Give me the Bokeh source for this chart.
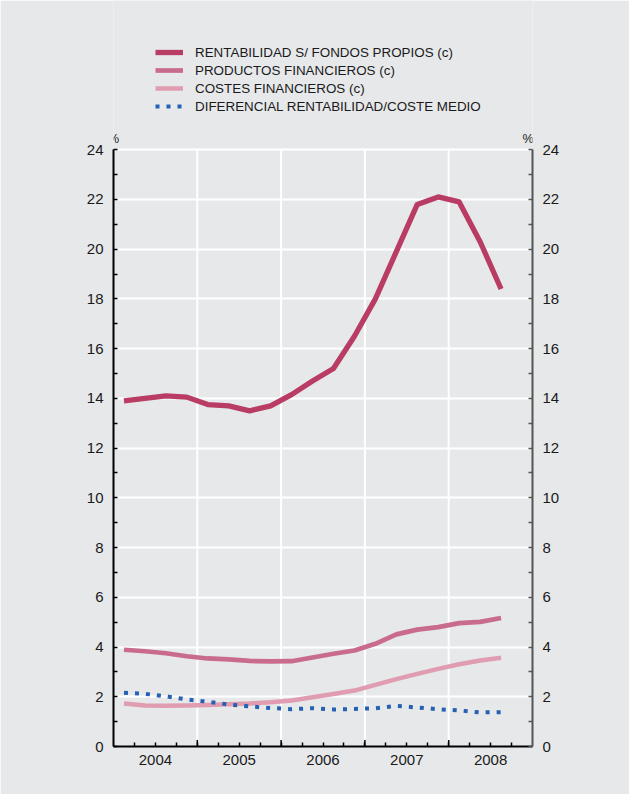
from bokeh.plotting import figure
from bokeh.models import (FixedTicker, LinearAxis, Legend, LegendItem, Label,
                          Range1d, CustomJSTickFormatter, ColumnDataSource)
from bokeh.embed import file_html
from bokeh.resources import INLINE

# ---- data ----
years = [2004, 2005, 2006, 2007, 2008]
period_year = [2004] * 4 + [2005] * 4 + [2006] * 4 + [2007] * 4 + [2008] * 3
period_q = [1, 2, 3, 4] * 4 + [1, 2, 3]

rentabilidad = [13.9, 14.0, 14.1, 14.05, 13.75, 13.7, 13.5, 13.7, 14.15, 14.7,
                15.2, 16.5, 18.0, 19.9, 21.8, 22.1, 21.9, 20.3, 18.4]
productos = [3.89, 3.83, 3.75, 3.63, 3.54, 3.50, 3.44, 3.42, 3.43, 3.58,
             3.73, 3.86, 4.13, 4.51, 4.70, 4.80, 4.96, 5.01, 5.17]
costes = [1.73, 1.65, 1.64, 1.65, 1.67, 1.70, 1.73, 1.78, 1.85, 1.98,
          2.11, 2.25, 2.48, 2.71, 2.92, 3.12, 3.31, 3.46, 3.57]
diferencial = [2.16, 2.12, 2.02, 1.89, 1.80, 1.69, 1.61, 1.55, 1.50, 1.54,
               1.49, 1.51, 1.54, 1.63, 1.57, 1.50, 1.45, 1.37, 1.38]

labels = ["RENTABILIDAD S/ FONDOS PROPIOS (c)",
          "PRODUCTOS FINANCIEROS (c)",
          "COSTES FINANCIEROS (c)",
          "DIFERENCIAL RENTABILIDAD/COSTE MEDIO"]
y_ticks = list(range(0, 25, 2))
y_minor = list(range(1, 24, 2))

# ---- derived ----
x = [y + (q - 0.5) / 4 for y, q in zip(period_year, period_q)]
src = ColumnDataSource(dict(x=x, r=rentabilidad, p=productos, c=costes, d=diferencial))
ymax = y_ticks[-1]

BG = "#e7e8ea"
FONT = "Liberation Sans"
TXT = "#1a1a1a"

# frame reaches the top of the page so that legend and "%" marks are not clipped;
# axes are bounded to 0..24
p = figure(width=629, height=794, output_backend="svg", toolbar_location=None,
           x_range=Range1d(years[0], years[-1] + 1), y_range=Range1d(0, ymax * 1.25),
           min_border_left=113, min_border_right=97, min_border_top=0,
           min_border_bottom=48)
p.background_fill_color = BG
p.border_fill_color = BG
p.outline_line_color = None

# grids
p.xgrid.visible = False
p.ygrid.ticker = FixedTicker(ticks=y_ticks[1:])
p.ygrid.bounds = (0, ymax)
p.ygrid.grid_line_color = "white"
p.ygrid.grid_line_width = 2
p.segment(x0=years[1:], y0=[0] * 4, x1=years[1:], y1=[ymax] * 4,
          line_color="white", line_width=2)

# x axis
xa = p.xaxis[0]
xa.ticker = FixedTicker(ticks=[y + 0.5 for y in years],
                        minor_ticks=[y + k / 4 for y in years for k in (1, 3)] + years[1:])
xa.formatter = CustomJSTickFormatter(code="return Math.floor(tick).toString()")
xa.axis_line_color = "black"
xa.axis_line_width = 2
xa.major_tick_in = 4
xa.major_tick_out = 0
xa.minor_tick_in = 4
xa.minor_tick_out = 0
xa.major_tick_line_width = 1.5
xa.minor_tick_line_width = 1.5
xa.major_label_standoff = 8
xa.major_label_text_font = FONT
xa.major_label_text_font_size = "15px"
xa.major_label_text_color = TXT

# y axes
ya = p.yaxis[0]
yr = LinearAxis()
p.add_layout(yr, "right")
for ax, col in ((ya, "black"), (yr, "#555555")):
    ax.bounds = (0, ymax)
    ax.ticker = FixedTicker(ticks=y_ticks, minor_ticks=y_minor)
    ax.axis_line_color = col
    ax.axis_line_width = 2
    ax.major_tick_line_color = col
    ax.minor_tick_line_color = col
    ax.major_tick_line_width = 1.5
    ax.minor_tick_line_width = 1.5
    ax.major_tick_in = 4
    ax.major_tick_out = 0
    ax.minor_tick_in = 4
    ax.minor_tick_out = 0
    ax.major_label_standoff = 10
    ax.major_label_text_font = FONT
    ax.major_label_text_font_size = "15px"
    ax.major_label_text_color = TXT

# longer ticks at year boundaries
p.segment(x0=years[1:], y0=[0] * 4, x1=years[1:], y1=[0.26] * 4,
          line_color="black", line_width=1.5)

# series
rc = p.line("x", "c", source=src, line_color="#e09cb1", line_width=4.5, line_join="round")
rp = p.line("x", "p", source=src, line_color="#c96b8e", line_width=4.7, line_join="round")
rr = p.line("x", "r", source=src, line_color="#b83c63", line_width=5.3, line_join="round")
rd = p.line("x", "d", source=src, line_color="#2560b3", line_width=4,
            line_dash="4 7", line_cap="butt")

legend = Legend(items=[LegendItem(label=labels[0], renderers=[rr]),
                       LegendItem(label=labels[1], renderers=[rp]),
                       LegendItem(label=labels[2], renderers=[rc]),
                       LegendItem(label=labels[3], renderers=[rd])],
                location=(42, 631), orientation="vertical",
                glyph_width=28, glyph_height=18, label_height=18, spacing=0,
                label_standoff=12, padding=0, margin=0,
                border_line_alpha=0, background_fill_alpha=0,
                label_text_font=FONT, label_text_font_size="13.4px",
                label_text_color=TXT)
p.add_layout(legend)

p.add_layout(Label(x=years[0], y=ymax, text="%", text_align="center",
                   text_baseline="bottom", y_offset=4, text_font=FONT,
                   text_font_size="12.5px", text_color=TXT))
p.add_layout(Label(x=years[-1] + 1, y=ymax, text="%", text_align="right",
                   text_baseline="bottom", y_offset=4, x_offset=1, text_font=FONT,
                   text_font_size="12.5px", text_color=TXT))

open("out.html", "w").write(file_html(p, INLINE))
